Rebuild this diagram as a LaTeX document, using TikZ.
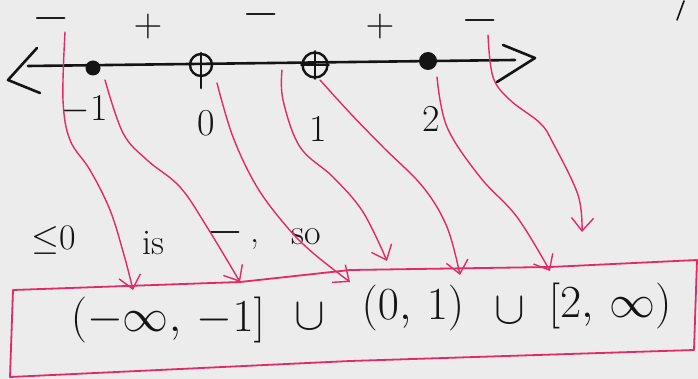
\RequirePackage{fix-cm}
\documentclass[tikz,border=0pt]{standalone}
\usetikzlibrary{arrows.meta}
\definecolor{pinkline}{RGB}{226,42,102}
\definecolor{bgc}{RGB}{236,236,236}
\definecolor{inkc}{RGB}{20,20,20}
\begin{document}
\begin{tikzpicture}[x=1pt,y=-1pt,
  ink/.style={draw=inkc, line width=2.6pt, line cap=round, line join=round},
  parr/.style={draw=pinkline, line width=1.4pt, line cap=round,
     -{Straight Barb[length=13pt,width=22pt,line width=1.4pt]}},
  boxline/.style={draw=pinkline, line width=1.8pt, line join=round},
  signtxt/.style={text=inkc, inner sep=0pt, anchor=base, text height=0.32em, text depth=0pt, font=\fontsize{48}{52}\selectfont},
  plustxt/.style={text=inkc, inner sep=0pt, font=\fontsize{40}{44}\selectfont},
  numtxt/.style={text=inkc, inner sep=0pt, font=\fontsize{38}{42}\selectfont},
  midtxt/.style={text=inkc, inner sep=0pt, font=\fontsize{36}{40}\selectfont},
  anstxt/.style={text=inkc, inner sep=0pt, font=\fontsize{46}{50}\selectfont},
  dotpt/.style={circle, fill=inkc, inner sep=0pt},
  openpt/.style={circle, draw=inkc, line width=2.4pt, inner sep=0pt}]
\fill[bgc] (0,0) rectangle (698,379);
\useasboundingbox (0,0) rectangle (698,379);

% number line
\coordinate (lineL) at (28,66);
\coordinate (lineR) at (515,60);
\draw[ink] (lineL) -- (lineR);
\coordinate (la1) at (37,48); \coordinate (la2) at (8,80); \coordinate (la3) at (40,93);
\draw[ink] (la1) -- (la2) -- (la3);
\coordinate (ra1) at (503,45); \coordinate (ra2) at (535,58); \coordinate (ra3) at (497,82);
\draw[ink] (ra1) -- (ra2) -- (ra3);

% points
\node[dotpt, minimum size=15pt] (pm1) at (93,68) {};
\node[openpt, minimum size=22pt] (p0) at (201,65) {};
\draw[ink] ([yshift=12pt]p0.center) -- ([yshift=-23pt]p0.center);
\node[openpt, minimum size=25pt] (p1) at (315,65) {};
\draw[ink] (p1.north) -- (p1.south);
\draw[ink] (p1.west) -- (p1.east);
\node[dotpt, minimum size=18pt] (p2) at (428,61) {};

% signs (baseline placed so the bar sits at the right height)
\node[signtxt] (s1) at (51,31) {$-$};
\node[plustxt] (s2) at (148,27) {$+$};
\node[signtxt] (s3) at (261,27) {$-$};
\node[plustxt] (s4) at (380,27) {$+$};
\node[signtxt] (s5) at (480,33) {$-$};

% numbers
\node[numtxt] (nm1) at (84,110) {$-1$};
\node[numtxt] (n0) at (206,123) {0};
\node[numtxt] (n1) at (318,129) {1};
\node[numtxt] (n2) at (431,119) {2};

% middle text
\node[midtxt] (t1) at (54,240) {$\leq$0};
\node[midtxt] (t2) at (153,243) {is};
\node[signtxt] (t3) at (225,244) {$-$};
\node[midtxt] (t4) at (255,245) {,};
\node[midtxt] (t5) at (306,237) {so};

% answer box
\coordinate (b1) at (13,290);
\coordinate (b2) at (240,282);
\coordinate (b3) at (350,270);
\coordinate (b4) at (550,267);
\coordinate (b5) at (697,260);
\coordinate (b6) at (694,350);
\coordinate (b7) at (350,361);
\coordinate (b8) at (10,377);
\draw[boxline] (b1) -- (b2) -- (b3) -- (b4) -- (b5) -- (b6) -- (b7) -- (b8) -- cycle;

\node[anstxt] (a1) at (168,320) {$(-\infty,\,-1]$};
\node[anstxt] (u1) at (310,317) {$\cup$};
\node[anstxt] (a2) at (413,308) {$(0,\,1)$};
\node[anstxt] (u2) at (510,311) {$\cup$};
\node[anstxt] (a3) at (610,306) {$[2,\,\infty)$};

% arrows
\coordinate (e1s) at (65,32);   \coordinate (e1e) at (133,290);
\coordinate (e2s) at (105,80);  \coordinate (e2e) at (240,282);
\coordinate (e3s) at (217,83);  \coordinate (e3e) at (350,282);
\coordinate (e4s) at (282,70);  \coordinate (e4e) at (387,261);
\coordinate (e5s) at (320,80);  \coordinate (e5e) at (460,275);
\coordinate (e6s) at (437,77);  \coordinate (e6e) at (550,271);
\coordinate (e7s) at (488,35);  \coordinate (e7e) at (582,232);

\draw[parr] plot[smooth, tension=0.6] coordinates {(e1s) (63,100) (70,140) (90,170) (110,210) (124,255) (e1e)};
\draw[parr] plot[smooth, tension=0.6] coordinates {(e2s) (123,133) (147,160) (180,187) (207,227) (e2e)};
\draw[parr] plot[smooth, tension=0.6] coordinates {(e3s) (233,137) (257,187) (287,227) (313,253) (e3e)};
\draw[parr] plot[smooth, tension=0.6] coordinates {(e4s) (283,100) (300,147) (333,177) (363,212) (e4e)};
\draw[parr] plot[smooth, tension=0.6] coordinates {(e5s) (350,113) (383,147) (423,187) (447,227) (e5e)};
\draw[parr] plot[smooth, tension=0.6] coordinates {(e6s) (447,127) (480,177) (517,217) (e6e)};
\draw[parr] plot[smooth, tension=0.6] coordinates {(e7s) (493,77) (510,100) (540,123) (553,143) (578,195) (e7e)};

% small stroke top right
\coordinate (tk1) at (684,1);
\coordinate (tk2) at (677,20);
\draw[draw=inkc, line width=1.6pt, line cap=round] (tk1) -- (tk2);
\end{tikzpicture}
\end{document}
